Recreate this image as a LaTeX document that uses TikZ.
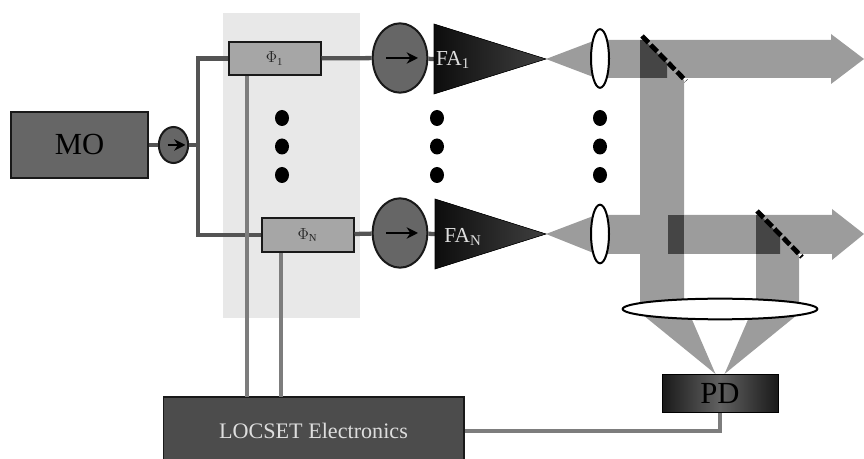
\documentclass[tikz,border=0pt]{standalone}
\usepackage{fontspec}
\setmainfont{Liberation Serif}
\usetikzlibrary{arrows.meta,shapes.geometric}
\definecolor{bandgray}{gray}{0.91}
\definecolor{beamgray}{gray}{0.61}
\definecolor{overlapgray}{gray}{0.27}
\definecolor{locsetgray}{gray}{0.30}
\definecolor{wiregray}{gray}{0.33}
\definecolor{controlgray}{gray}{0.49}
\definecolor{ampgray}{gray}{0.40}
\definecolor{boxgray}{gray}{0.65}
\definecolor{labelgray}{gray}{0.87}
\tikzset{
    opticwire/.style={draw=wiregray, line width=3.2pt},
    controlwire/.style={draw=controlgray, line width=3.2pt},
    phasebox/.style={shape=rectangle, draw=black!90, fill=boxgray, line width=1.5pt, minimum width=69pt, minimum height=25pt, inner sep=0pt, text=black!85, font=\fontsize{12}{14}\selectfont},
    ampbig/.style={shape=ellipse, draw=black!90, fill=ampgray, line width=1.5pt, minimum width=41pt, minimum height=52pt, inner sep=0pt},
    ampsmall/.style={shape=ellipse, draw=black!90, fill=ampgray, line width=1.5pt, minimum width=22pt, minimum height=27pt, inner sep=0pt},
    amparrow/.style={-{Stealth[length=8.5pt, width=8.5pt]}, line width=1.4pt, black},
    lens/.style={shape=ellipse, draw=black, fill=white, line width=1.5pt, inner sep=0pt},
    dotmark/.style={shape=ellipse, fill=black, minimum width=10.5pt, minimum height=12pt, inner sep=0pt},
    mirror/.style={draw=black, line width=3.6pt, dash pattern=on 7pt off 2.4pt},
    beam/.style={fill=beamgray},
    overlap/.style={fill=overlapgray},
    falabel/.style={text=labelgray, font=\fontsize{16}{18}\selectfont, inner sep=0pt}
}
\begin{document}
\begin{tikzpicture}[x=0.75pt, y=-0.75pt]
        \useasboundingbox (0, 0) rectangle (864, 459);
        \clip (0, 0) rectangle (864, 459);
        % Band behind the phase modulators:
        \fill[bandgray] (223, 13) rectangle (360, 318);
        % Blocks:
        \node[shape=rectangle, draw=black!90, fill=ampgray, line width=1.5pt, minimum width=102.5pt, minimum height=49.5pt, inner sep=0pt, font=\fontsize{23}{25}\selectfont, text=black] (mo) at (79.5, 145){MO};
        \node[ampsmall] (ampmo) at (173.5, 145){};
        \coordinate (split) at (198, 145);
        \node[phasebox] (phione) at (274.5, 58.5){$\Phi$\textsubscript{1}};
        \node[phasebox] (phin) at (307.5, 235){$\Phi$\textsubscript{N}};
        \node[ampbig] (ampone) at (400, 58){};
        \node[ampbig] (ampn) at (400, 233){};
        \coordinate (faonein) at (434, 59);
        \coordinate (faoneout) at (546, 59);
        \coordinate (fanin) at (435, 234);
        \coordinate (fanout) at (546, 234);
        \node[shape=rectangle, draw=black!90, fill=locsetgray, line width=1pt, minimum width=225.5pt, minimum height=51pt, inner sep=0pt, font=\fontsize{16.6}{18}\selectfont, text=labelgray] (locset) at (313.5, 431){LOCSET Electronics};
        \node[shape=rectangle, draw=black, left color=black!90, right color=black!90, middle color=black!62, line width=0.6pt, minimum width=87pt, minimum height=29pt, inner sep=0pt, font=\fontsize{23}{25}\selectfont, text=black] (pd) at (720, 393.5){PD};
        \coordinate (controlone) at (247, 397);
        \coordinate (controln) at (281, 397);
        % Wires:
        \draw[opticwire] (mo) -- (ampmo) -- (split);
        \draw[opticwire] (phione.west) -| (split) |- (phin.west);
        \draw[opticwire] (phione) -- (ampone) -- (faonein);
        \draw[opticwire] (phin) -- (ampn) -- (fanin);
        \draw[controlwire] (controlone) -- (controlone |- phione.south);
        \draw[controlwire] (controln) -- (controln |- phin.south);
        \draw[controlwire] (pd.south) |- (locset.east);
        % Amplifiers:
        \draw[amparrow] ([xshift=-4.5pt]ampmo.center) -- ([xshift=9pt]ampmo.center);
        \draw[amparrow] ([xshift=-10.5pt]ampone.center) -- ([xshift=13.5pt]ampone.center);
        \draw[amparrow] ([xshift=-10.5pt]ampn.center) -- ([xshift=13.5pt]ampn.center);
        \fill[left color=black!95, right color=black!75, draw=black] (434, 24) -- (faoneout) -- (434, 94) -- cycle;
        \fill[left color=black!95, right color=black!75, draw=black] (435, 199) -- (fanout) -- (435, 269) -- cycle;
        \node[falabel] (faone) at (453, 60){FA\textsubscript{1}};
        \node[falabel] (fan) at (463, 237){FA\textsubscript{N}};
        % Beams:
        \fill[beam] (faoneout) -- (596, 40) -- (831, 40) -- (831, 34) -- (864, 59) -- (831, 84) -- (831, 78) -- (596, 78) -- cycle;
        \fill[beam] (fanout) -- (596, 215) -- (832, 215) -- (832, 209) -- (864, 234) -- (832, 260) -- (832, 254) -- (596, 254) -- cycle;
        \fill[beam] (640, 40) -- (684, 80) -- (684, 305) -- (640, 305) -- cycle;
        \fill[beam] (756, 215) -- (799, 255) -- (799, 305) -- (756, 305) -- cycle;
        \fill[overlap] (640, 40) -- (644, 40) -- (667, 63) -- (667, 78) -- (640, 78) -- cycle;
        \fill[overlap] (668, 215) rectangle (684, 254);
        \fill[overlap] (756, 215) -- (760, 215) -- (780, 236) -- (780, 254) -- (756, 254) -- cycle;
        \fill[beam] (643, 315) -- (690, 315) -- (715.5, 374) -- cycle;
        \fill[beam] (750, 315) -- (797, 315) -- (724.5, 374) -- cycle;
        \draw[mirror] (642, 36) -- (686, 81);
        \draw[mirror] (757, 211) -- (802, 257);
        % Lenses:
        \node[lens, minimum width=13.5pt, minimum height=44pt] (lensone) at (600, 58.5){};
        \node[lens, minimum width=13.5pt, minimum height=44pt] (lensn) at (600, 234){};
        \node[lens, minimum width=146pt, minimum height=15.5pt] (lenspd) at (720, 309){};
        % Dots:
        \foreach \col in {282, 437, 600} {
            \foreach \row in {118, 146.5, 175} {
                \node[dotmark] (dot\col-\row) at (\col, \row){};
            }
        }
\end{tikzpicture}
\end{document}
